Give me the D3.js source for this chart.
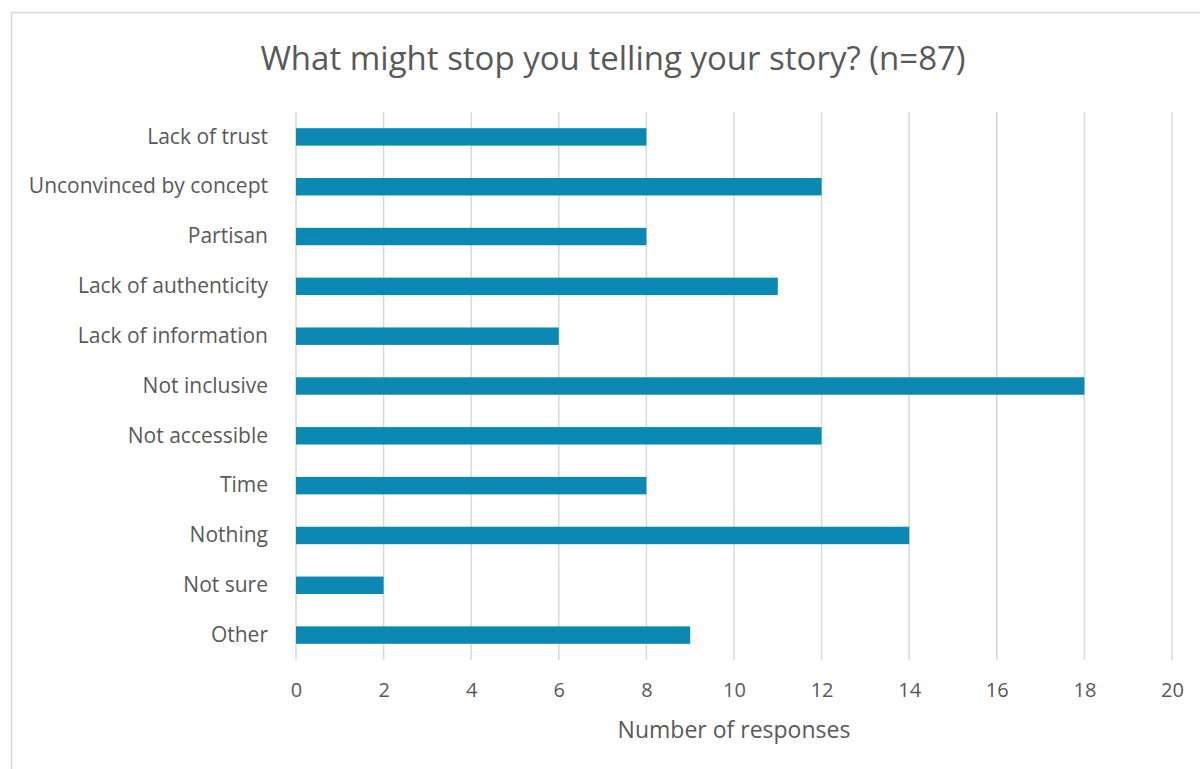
<!DOCTYPE html>
<html>
<head>
<meta charset="utf-8">
<script src="https://cdn.jsdelivr.net/npm/d3@7"></script>
<style>
  body { margin: 0; background: #fff; }
  svg { display: block; }
  svg text { font-family: "Open Sans", "Noto Sans", sans-serif; }
</style>
</head>
<body>
<svg width="1200" height="769"></svg>
<script>
// DATA
var categories = ["Lack of trust", "Unconvinced by concept", "Partisan", "Lack of authenticity",
  "Lack of information", "Not inclusive", "Not accessible", "Time", "Nothing", "Not sure", "Other"];
var responses = [8, 12, 8, 11, 6, 18, 12, 8, 14, 2, 9];
var xTicks = [0, 2, 4, 6, 8, 10, 12, 14, 16, 18, 20];

// SETUP
var svg = d3.select("svg"),
    margin = { top: 112, right: 28, bottom: 109, left: 296 },
    width = 1200 - margin.left - margin.right,
    height = 769 - margin.top - margin.bottom;

svg.append("rect")
  .attr("x", 11.5).attr("y", 12.5)
  .attr("width", 1200).attr("height", 800)
  .attr("fill", "none").attr("stroke", "#d9d9d9").attr("stroke-width", 1.5);

var x = d3.scaleLinear().domain([0, 20]).range([0, 876]),
    y = d3.scaleBand().domain(categories).range([0, height]).paddingInner(0.65).paddingOuter(0.325);

var g = svg.append("g")
  .attr("transform", "translate(" + margin.left + "," + margin.top + ")");

// gridlines
g.append("g")
  .selectAll("line")
  .data(xTicks)
  .enter().append("line")
  .attr("x1", function(d) { return x(d); })
  .attr("x2", function(d) { return x(d); })
  .attr("y1", 0)
  .attr("y2", height)
  .attr("stroke", "#d9d9d9")
  .attr("stroke-width", 1.5);

// bars
g.selectAll(".bar")
  .data(responses)
  .enter().append("rect")
  .attr("class", "bar")
  .attr("x", x(0))
  .attr("y", function(d, i) { return y(categories[i]); })
  .attr("width", function(d) { return x(d) - x(0); })
  .attr("height", y.bandwidth())
  .attr("fill", "#0b89b2");

// axes
var xAxis = g.append("g")
  .attr("transform", "translate(0," + height + ")")
  .call(d3.axisBottom(x).tickValues(xTicks).tickSize(0).tickPadding(23));
xAxis.select(".domain").remove();
xAxis.attr("font-family", null);
xAxis.selectAll("text").attr("fill", "#595959").style("font-size", "20px");

var yAxis = g.append("g")
  .call(d3.axisLeft(y).tickSize(0).tickPadding(28));
yAxis.select(".domain").remove();
yAxis.attr("font-family", null);
yAxis.selectAll("text").attr("fill", "#595959").style("font-size", "21px");

// titles
svg.append("text")
  .attr("x", 613).attr("y", 70)
  .attr("text-anchor", "middle")
  .attr("fill", "#595959")
  .style("font-size", "33px")
  .text("What might stop you telling your story? (n=87)");

svg.append("text")
  .attr("x", margin.left + x(10)).attr("y", 738)
  .attr("text-anchor", "middle")
  .attr("fill", "#595959")
  .style("font-size", "23px")
  .text("Number of responses");
</script>
</body>
</html>
